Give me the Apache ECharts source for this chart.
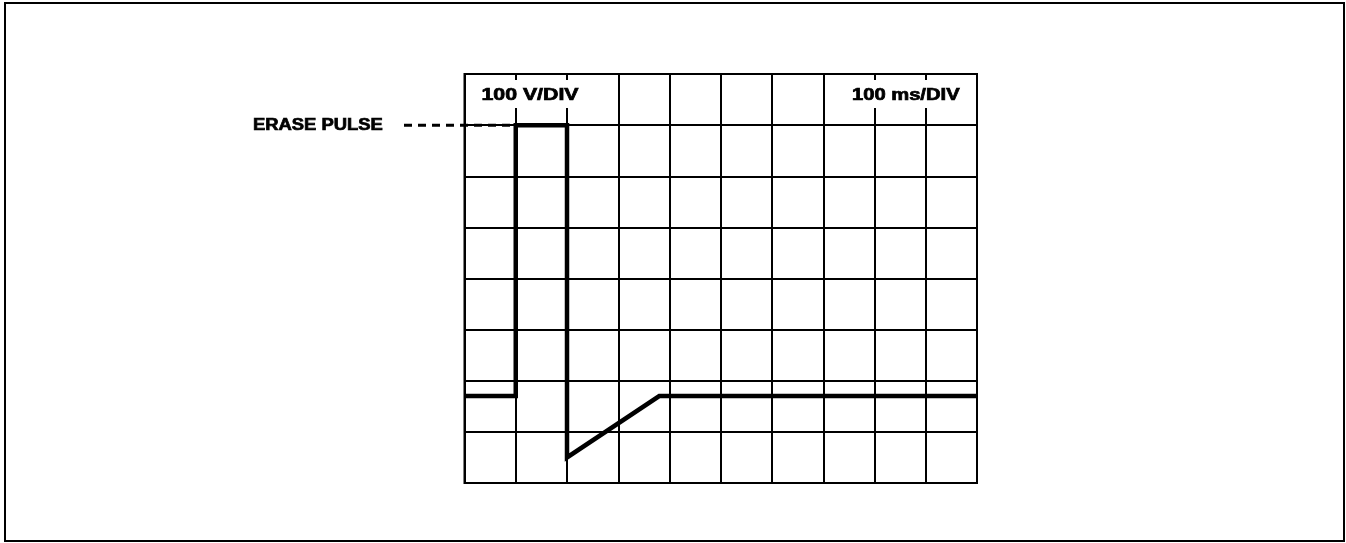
<!DOCTYPE html>
<html>
<head>
<meta charset="utf-8">
<script src="https://cdn.jsdelivr.net/npm/echarts@6/dist/echarts.min.js"></script>
<style>
  html, body { margin: 0; padding: 0; background: #fff; }
  #chart { width: 1346px; height: 543px; }
</style>
</head>
<body>
<div id="chart"></div>
<script>
// Time in ms (100 ms per division), level in screen divisions (100 V per division)
const traceTimes  = [0, 100, 100, 200, 200, 380, 1000];
const traceLevels = [1.7, 1.7, 7, 7, 0.5, 1.7, 1.7];
const voltsLabel = '100 V/DIV';
const timeLabel = '100 ms/DIV';
const pulseLabel = 'ERASE PULSE';
const pulseLevel = 7;
const pulseStart = 100;

const chart = echarts.init(document.getElementById('chart'), null, { renderer: 'canvas' });

const lineStyle = { color: '#000', width: 2 };

chart.setOption({
  backgroundColor: '#fff',
  animation: false,
  grid: {
    left: 464.5, right: 369, top: 74, bottom: 60,
    show: true, borderColor: '#000', borderWidth: 2, backgroundColor: 'transparent'
  },
  xAxis: {
    type: 'value', min: 0, max: 1000, interval: 100,
    axisLine: { show: false }, axisTick: { show: false }, axisLabel: { show: false },
    splitLine: { show: true, lineStyle }
  },
  yAxis: {
    type: 'value', min: 0, max: 8, interval: 1,
    axisLine: { show: false }, axisTick: { show: false }, axisLabel: { show: false },
    splitLine: { show: true, lineStyle }
  },
  series: [{
    type: 'line',
    data: traceTimes.map((t, i) => [t, traceLevels[i]]),
    showSymbol: false,
    lineStyle: { color: '#000', width: 4.5, join: 'miter' },
    z: 5
  }]
});

// Labels, scale captions and leader line placed from axis coordinates
const [x0, yTop] = chart.convertToPixel({ gridIndex: 0 }, [0, 8]);
const [x1] = chart.convertToPixel({ gridIndex: 0 }, [1000, 8]);
const [xPulse, yPulse] = chart.convertToPixel({ gridIndex: 0 }, [pulseStart, pulseLevel]);
const textFont = 'bold 16px "Liberation Sans", Arial, sans-serif';
const textStyle = (text) => ({
  text, font: textFont, fill: '#000', stroke: '#000', lineWidth: 0.7,
  textVerticalAlign: 'middle'
});

chart.setOption({
  graphic: [
    // outer frame
    { type: 'rect', shape: { x: 5, y: 3, width: 1339, height: 538 },
      style: { fill: null, stroke: '#000', lineWidth: 2 }, z: 1 },
    // blank panels behind the scale captions
    { type: 'rect', shape: { x: x0 + 12, y: yTop + 6, width: 126, height: 28 },
      style: { fill: '#fff' }, z: 10 },
    { type: 'rect', shape: { x: x1 - 128, y: yTop + 6, width: 118, height: 28 },
      style: { fill: '#fff' }, z: 10 },
    { type: 'text', x: x0 + 17, y: yTop + 22, scaleX: 1.33,
      style: textStyle(voltsLabel), z: 11 },
    { type: 'text', x: x1 - 125, y: yTop + 22, scaleX: 1.26,
      style: textStyle(timeLabel), z: 11 },
    { type: 'text', x: 253, y: yPulse, scaleX: 1.15,
      style: textStyle(pulseLabel), z: 11 },
    { type: 'line', shape: { x1: 404, y1: yPulse, x2: xPulse, y2: yPulse },
      style: { stroke: '#000', lineWidth: 3, lineDash: [8, 6] }, z: 6 }
  ]
});
</script>
</body>
</html>
